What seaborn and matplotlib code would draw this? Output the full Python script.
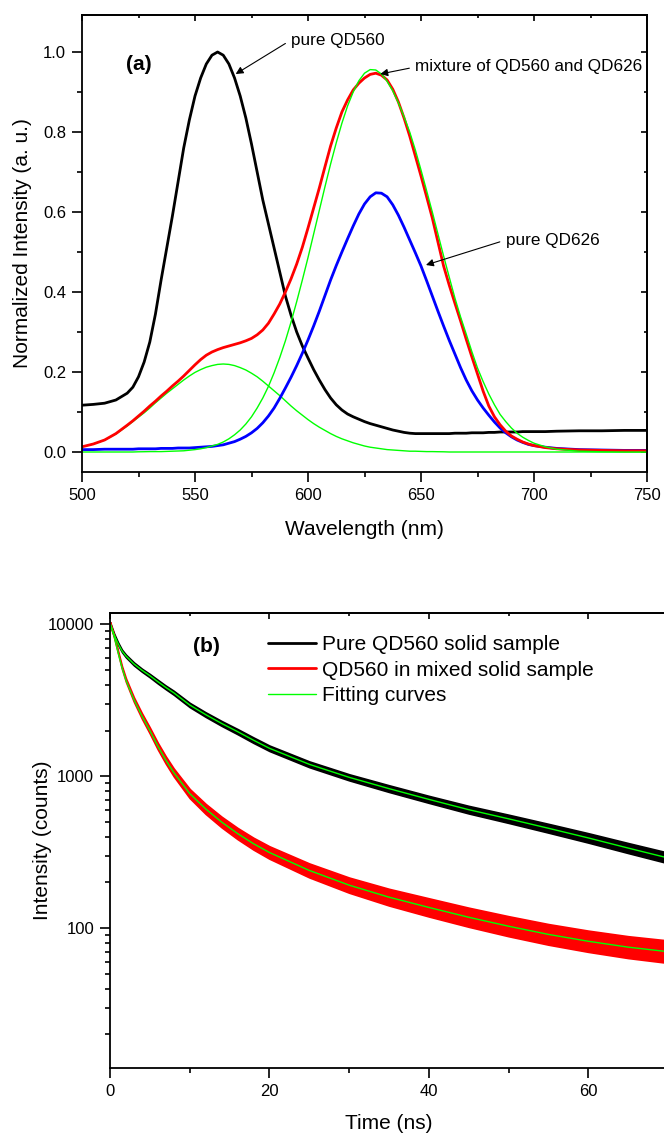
import numpy as np
import matplotlib
matplotlib.use("Agg")
import matplotlib.pyplot as plt
from matplotlib.ticker import MultipleLocator, FixedLocator, FuncFormatter, LogLocator, NullFormatter
from matplotlib.lines import Line2D
import seaborn as sns

# ---------------- data: panel (a) ----------------
wavelength = [500, 505, 510, 515] + [520 + 2.5 * i for i in range(73)] + [705, 710, 720, 730, 740, 750]

pure_qd560 = [0.117, 0.119, 0.122, 0.130,
              0.147, 0.162, 0.188, 0.225, 0.275, 0.345, 0.430, 0.510, 0.590, 0.675,
              0.760, 0.830, 0.890, 0.935, 0.970, 0.992, 1.000, 0.992, 0.970, 0.935,
              0.890, 0.835, 0.770, 0.700, 0.630, 0.570, 0.510, 0.450, 0.390, 0.342,
              0.300, 0.265, 0.235, 0.206, 0.180, 0.156, 0.135, 0.118, 0.105, 0.095,
              0.088, 0.082, 0.076, 0.071, 0.067, 0.063, 0.059, 0.055, 0.052, 0.049,
              0.047, 0.046, 0.046, 0.046, 0.046, 0.046, 0.046, 0.046, 0.047, 0.047,
              0.047, 0.048, 0.048, 0.048, 0.049, 0.049, 0.050, 0.050, 0.050, 0.050,
              0.051, 0.051, 0.051,
              0.051, 0.052, 0.053, 0.053, 0.054, 0.054]

pure_qd626 = [0.006, 0.006, 0.007, 0.007,
              0.007, 0.007, 0.008, 0.008, 0.008, 0.008, 0.009, 0.009, 0.009, 0.010,
              0.010, 0.010, 0.011, 0.012, 0.013, 0.014, 0.016, 0.018, 0.022, 0.026,
              0.032, 0.039, 0.048, 0.059, 0.073, 0.090, 0.110, 0.134, 0.160, 0.187,
              0.216, 0.247, 0.280, 0.315, 0.352, 0.391, 0.430, 0.466, 0.500, 0.533,
              0.565, 0.595, 0.620, 0.638, 0.648, 0.647, 0.638, 0.618, 0.592, 0.562,
              0.530, 0.498, 0.465, 0.428, 0.390, 0.352, 0.315, 0.279, 0.245, 0.211,
              0.180, 0.153, 0.130, 0.110, 0.092, 0.075, 0.060, 0.048, 0.038, 0.030,
              0.024, 0.019, 0.016,
              0.012, 0.009, 0.006, 0.005, 0.004, 0.004]

mixture = [0.013, 0.020, 0.030, 0.046,
           0.067, 0.078, 0.090, 0.102, 0.115, 0.127, 0.140, 0.152, 0.165, 0.177,
           0.190, 0.204, 0.218, 0.231, 0.242, 0.250, 0.256, 0.261, 0.265, 0.269,
           0.273, 0.278, 0.284, 0.293, 0.305, 0.322, 0.345, 0.370, 0.400, 0.433,
           0.470, 0.512, 0.560, 0.610, 0.660, 0.713, 0.765, 0.810, 0.850, 0.880,
           0.905, 0.922, 0.935, 0.944, 0.947, 0.942, 0.930, 0.907, 0.875, 0.835,
           0.790, 0.740, 0.690, 0.638, 0.585, 0.525, 0.465, 0.417, 0.372, 0.328,
           0.282, 0.238, 0.195, 0.152, 0.115, 0.088, 0.068, 0.052, 0.040, 0.032,
           0.025, 0.020, 0.016,
           0.011, 0.008, 0.005, 0.004, 0.003, 0.003]

fit_peak1 = [0.013, 0.020, 0.030, 0.045,
             0.065, 0.076, 0.087, 0.098, 0.110, 0.123, 0.135, 0.147, 0.158, 0.169,
             0.180, 0.190, 0.199, 0.206, 0.212, 0.216, 0.219, 0.220, 0.219, 0.216,
             0.211, 0.205, 0.197, 0.188, 0.177, 0.165, 0.153, 0.141, 0.128, 0.115,
             0.103, 0.092, 0.081, 0.071, 0.062, 0.054, 0.046, 0.039, 0.033, 0.028,
             0.023, 0.019, 0.015, 0.012, 0.010, 0.008, 0.006, 0.005, 0.004, 0.003,
             0.002, 0.002, 0.0015, 0.001, 0.001, 0.0007, 0.0005, 0.0, 0.0, 0.0,
             0.0, 0.0, 0.0, 0.0, 0.0, 0.0, 0.0, 0.0, 0.0, 0.0,
             0.0, 0.0, 0.0,
             0.0, 0.0, 0.0, 0.0, 0.0, 0.0]

fit_peak2 = [0.0, 0.0, 0.0, 0.0,
             0.0, 0.0, 0.0005, 0.0007, 0.001, 0.001, 0.001, 0.0015, 0.002, 0.0025,
             0.003, 0.0045, 0.006, 0.008, 0.011, 0.015, 0.019, 0.025, 0.033, 0.043,
             0.055, 0.070, 0.088, 0.110, 0.135, 0.164, 0.198, 0.236, 0.278, 0.325,
             0.376, 0.430, 0.486, 0.545, 0.604, 0.663, 0.720, 0.773, 0.822, 0.865,
             0.900, 0.928, 0.947, 0.956, 0.955, 0.945, 0.927, 0.903, 0.873, 0.838,
             0.800, 0.755, 0.705, 0.653, 0.600, 0.545, 0.490, 0.437, 0.385, 0.338,
             0.295, 0.251, 0.210, 0.176, 0.145, 0.118, 0.094, 0.076, 0.060, 0.047,
             0.037, 0.029, 0.022,
             0.013, 0.007, 0.002, 0.0005, 0.0, 0.0]

for _s in (pure_qd560, pure_qd626, mixture, fit_peak1, fit_peak2):
    assert len(_s) == len(wavelength), (len(_s), len(wavelength))

# ---------------- data: panel (b) ----------------
time_ns = [0, 0.5, 1, 1.5, 2, 3, 4, 5, 6, 7, 8, 10, 12, 14, 16, 18, 20,
           25, 30, 35, 40, 45, 50, 55, 60, 65, 70]

pure_fit = [10200, 8600, 7500, 6700, 6200, 5500, 5000, 4600, 4200, 3850, 3550,
            2950, 2550, 2230, 1970, 1730, 1530, 1200, 985, 830, 705, 603, 525,
            455, 393, 337, 290]

mixed_fit = [10200, 8400, 6600, 5200, 4300, 3200, 2500, 2000, 1580, 1280, 1060,
             770, 610, 500, 420, 360, 315, 240, 192, 160, 137, 118, 103, 91, 82,
             75, 70]

# half-width of the noisy data band (decades)
pure_noise = [0.008, 0.008, 0.008, 0.008, 0.009, 0.010, 0.010, 0.011, 0.012, 0.012,
              0.013, 0.014, 0.015, 0.016, 0.017, 0.018, 0.018, 0.019, 0.020, 0.022,
              0.023, 0.025, 0.027, 0.029, 0.031, 0.033, 0.035]
mixed_noise = [0.008, 0.008, 0.009, 0.010, 0.012, 0.015, 0.018, 0.020, 0.022, 0.024,
               0.026, 0.030, 0.033, 0.035, 0.037, 0.039, 0.041, 0.046, 0.050, 0.055,
               0.060, 0.063, 0.066, 0.068, 0.070, 0.072, 0.074]

legend_labels = ["Pure QD560 solid sample", "QD560 in mixed solid sample", "Fitting curves"]

# ---------------- style ----------------
sns.set_theme(style="ticks")
sns.set_style("ticks", {"axes.edgecolor": "black", "xtick.color": "black",
                        "ytick.color": "black", "text.color": "black",
                        "axes.labelcolor": "black"})
plt.rcParams["font.family"] = ["Liberation Sans", "DejaVu Sans"]
plt.rcParams["axes.linewidth"] = 1.3

BLACK, RED, BLUE, GREEN = "#000000", "#FF0000", "#0000FF", "#00FF00"

W, H = 664, 1133
fig = plt.figure(figsize=(W / 100, H / 100), dpi=100)

# ---------------- panel (a) ----------------
ax1 = fig.add_axes([82 / W, 1 - 472 / H, 565 / W, 457 / H])
kw = dict(sort=False, estimator=None)
sns.lineplot(x=wavelength, y=fit_peak1, ax=ax1, color=GREEN, lw=1.0, **kw)
sns.lineplot(x=wavelength, y=pure_qd560, ax=ax1, color=BLACK, lw=2.0, **kw)
sns.lineplot(x=wavelength, y=pure_qd626, ax=ax1, color=BLUE, lw=2.0, **kw)
sns.lineplot(x=wavelength, y=mixture, ax=ax1, color=RED, lw=2.0, **kw)
sns.lineplot(x=wavelength, y=fit_peak2, ax=ax1, color=GREEN, lw=1.0, **kw)

ax1.set_xlim(500, 750)
ax1.set_ylim(-0.05, 1.0925)
ax1.xaxis.set_major_locator(MultipleLocator(50))
ax1.xaxis.set_minor_locator(MultipleLocator(25))
ax1.yaxis.set_major_locator(MultipleLocator(0.2))
ax1.yaxis.set_minor_locator(MultipleLocator(0.1))
ax1.yaxis.set_major_formatter(FuncFormatter(lambda v, p: f"{v:.1f}"))
ax1.tick_params(which="major", direction="out", length=7, width=1.2, labelsize=12, pad=4.5)
ax1.tick_params(which="minor", direction="out", length=3.5, width=1.2)
ax1.set_xlabel("Wavelength (nm)", fontsize=15, labelpad=12)
ax1.set_ylabel("Normalized Intensity (a. u.)", fontsize=15, labelpad=7.5)

secx = ax1.secondary_xaxis("top")
secx.xaxis.set_major_locator(MultipleLocator(50))
secx.xaxis.set_minor_locator(MultipleLocator(25))
secx.tick_params(which="both", direction="in", labeltop=False, width=1.2)
secx.tick_params(which="major", length=4)
secx.tick_params(which="minor", length=2.5)
secy = ax1.secondary_yaxis("right")
secy.yaxis.set_major_locator(MultipleLocator(0.2))
secy.yaxis.set_minor_locator(MultipleLocator(0.1))
secy.tick_params(which="both", direction="in", labelright=False, width=1.2)
secy.tick_params(which="major", length=4)
secy.tick_params(which="minor", length=2.5)

ax1.text(525.2, 0.97, "(a)", fontsize=15, fontweight="bold", ha="center", va="center")
arrow = dict(arrowstyle="-|>", color="black", lw=0.8, shrinkA=2, shrinkB=0,
             relpos=(0, 0.5), mutation_scale=11)
ax1.annotate("pure QD560", xy=(568, 0.945), xytext=(592.5, 1.03), fontsize=12.3,
             ha="left", va="center", arrowprops=arrow)
ax1.annotate("mixture of QD560 and QD626", xy=(632, 0.945), xytext=(647.5, 0.9625),
             fontsize=12.3, ha="left", va="center", arrowprops=arrow)
ax1.annotate("pure QD626", xy=(652.2, 0.4675), xytext=(687.5, 0.53), fontsize=12.3,
             ha="left", va="center", arrowprops=arrow)

# ---------------- panel (b) ----------------
ax2 = fig.add_axes([110 / W, 1 - 1068 / H, 558 / W, 455 / H])
t = np.array(time_ns, dtype=float)
pf, mf = np.array(pure_fit, float), np.array(mixed_fit, float)
pn, mn = np.array(pure_noise), np.array(mixed_noise)

ax2.fill_between(t, pf * 10 ** (-pn), pf * 10 ** pn, color=BLACK, lw=1.2, edgecolor=BLACK)
ax2.fill_between(t, mf * 10 ** (-mn), mf * 10 ** mn, color=RED, lw=1.2, edgecolor=RED)
sns.lineplot(x=time_ns, y=pure_fit, ax=ax2, color=GREEN, lw=1.0, **kw)
sns.lineplot(x=time_ns, y=mixed_fit, ax=ax2, color=GREEN, lw=1.0, **kw)

ax2.set_yscale("log")
ax2.set_xlim(0, 70)
ax2.set_ylim(12, 11900)
ax2.xaxis.set_major_locator(MultipleLocator(20))
ax2.xaxis.set_minor_locator(MultipleLocator(10))
ax2.yaxis.set_major_locator(FixedLocator([10, 100, 1000, 10000]))
ax2.yaxis.set_major_formatter(FuncFormatter(lambda v, p: f"{int(round(v))}"))
ax2.yaxis.set_minor_locator(LogLocator(base=10, subs=np.arange(2, 10)))
ax2.yaxis.set_minor_formatter(NullFormatter())
ax2.tick_params(which="major", direction="out", length=7, width=1.2, labelsize=12, pad=4.5)
ax2.tick_params(which="minor", direction="out", length=3.5, width=1.2)
ax2.set_xlabel("Time (ns)", fontsize=15, labelpad=11)
ax2.set_ylabel("Intensity (counts)", fontsize=15, labelpad=-3)

secx2 = ax2.secondary_xaxis("top")
secx2.xaxis.set_major_locator(MultipleLocator(20))
secx2.xaxis.set_minor_locator(MultipleLocator(10))
secx2.tick_params(which="both", direction="in", labeltop=False, width=1.2)
secx2.tick_params(which="major", length=4)
secx2.tick_params(which="minor", length=2.5)

ax2.text(0.172, 0.927, "(b)", transform=ax2.transAxes, fontsize=15,
         fontweight="bold", ha="center", va="center")
handles = [Line2D([], [], color=BLACK, lw=2.0),
           Line2D([], [], color=RED, lw=2.0),
           Line2D([], [], color=GREEN, lw=1.0)]
ax2.legend(handles, legend_labels, loc="upper left", bbox_to_anchor=(0.283, 0.952),
           frameon=False, fontsize=15, handlelength=2.3, handletextpad=0.3,
           labelspacing=0.32, borderpad=0, borderaxespad=0)

fig.savefig("out.png", dpi=100)
